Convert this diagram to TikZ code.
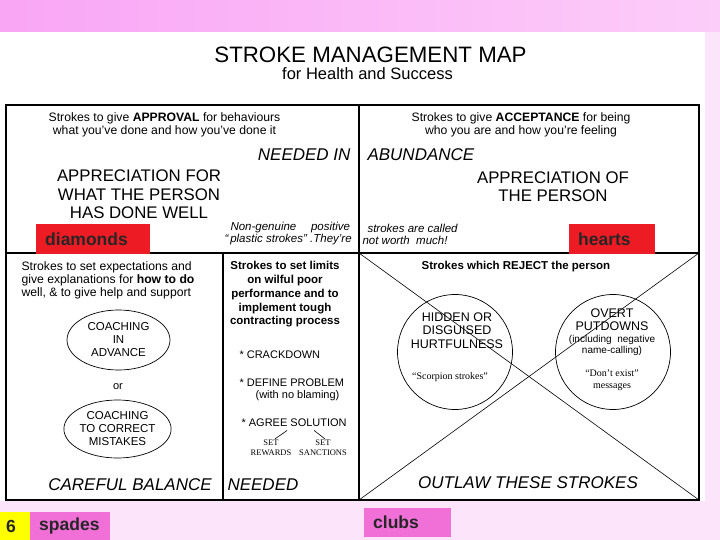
\documentclass[tikz,border=0pt]{standalone}
\usepackage{fontspec}
\setmainfont{Liberation Sans}
\newfontfamily\timesface[Ligatures=TeX]{Liberation Serif}
\usepackage{tikz}
\usetikzlibrary{shapes.geometric}

\definecolor{bandpink}{HTML}{F9A6F5}
\definecolor{bandlight}{HTML}{FCCDF9}
\definecolor{pagepink}{HTML}{FCE4FB}
\definecolor{tagred}{HTML}{ED1C24}
\definecolor{tagpink}{HTML}{F070D8}
\definecolor{tagyellow}{HTML}{FFFF00}

\tikzset{
  labeltag/.style={fill=#1, anchor=west, inner xsep=9pt, inner ysep=0pt,
    minimum height=29pt, align=left, text=black!85,
    font=\fontsize{17.5}{18}\selectfont\bfseries},
  tableline/.style={line width=1.3pt},
  crossline/.style={line width=0.6pt},
  smalltext/.style={align=center, font=\fontsize{12.2}{13}\selectfont},
  boldtext/.style={align=center, font=\fontsize{11.5}{13.75}\selectfont\bfseries},
  bigtext/.style={align=center, font=\fontsize{16.8}{18.5}\selectfont},
  bigital/.style={font=\fontsize{17}{18}\selectfont\itshape},
  plastic/.style={anchor=west, align=left, font=\fontsize{11.5}{12}\selectfont\itshape},
  itemtext/.style={font=\fontsize{11}{13}\selectfont},
  setlabel/.style={align=center, inner sep=1pt, font=\fontsize{8.5}{10}\selectfont\timesface},
  coach/.style={ellipse, draw, line width=0.7pt, inner sep=0pt, minimum width=103pt,
    align=center, font=\fontsize{11.5}{13}\selectfont},
  ring/.style={circle, draw, line width=0.7pt, minimum size=115pt},
  circtext/.style={align=center, font=\fontsize{12.5}{13.5}\selectfont},
  notetext/.style={align=center, font=\fontsize{10}{11}\selectfont},
  seriftext/.style={align=center, font=\fontsize{10}{12}\selectfont\timesface}
}

\begin{document}
\begin{tikzpicture}[x=1pt, y=-1pt]
    \useasboundingbox (0,0) rectangle (720,540);
    % slide background and scanned page
    \fill[pagepink] (0,0) rectangle (720,540);
    \shade[left color=bandpink, right color=bandlight] (0,0) rectangle (720,32);
    \fill[white] (0,32) rectangle (705,501);

    \node[font=\fontsize{22.3}{24}\selectfont] (title) at (370.5,55) {STROKE MANAGEMENT MAP};
    \node[font=\fontsize{16.5}{18}\selectfont] (subtitle) at (367.5,74) {for Health and Success};

    % table frame
    \draw[tableline] (6,105) rectangle (699,500);
    \draw[tableline] (6,253) -- (699,253);
    \draw[tableline] (359,105) -- (359,500);
    \draw[tableline] (223,253) -- (223,500);

    % top half
    \node[smalltext] (approval) at (164.5,124.5) {Strokes to give \textbf{APPROVAL} for behaviours\\what you've done and how you've done it};
    \node[smalltext] (acceptance) at (521,124.5) {Strokes to give \textbf{ACCEPTANCE} for being\\who you are and how you're feeling};
    \node[bigital, anchor=east] (neededin) at (354,155) {NEEDED IN};
    \node[bigital, anchor=west] (abundance) at (364,155) {ABUNDANCE};
    \node[bigtext] (forwhat) at (139,194.5) {APPRECIATION FOR\\WHAT THE PERSON\\HAS DONE WELL};
    \node[bigtext] (ofperson) at (553,186.5) {APPRECIATION OF\\THE PERSON};
    \node[plastic] (nongenuine) at (221,234) {\hspace*{6pt}Non-genuine\quad\ positive\\“\,plastic strokes” .They're};
    \node[plastic] (notworth) at (359,234) {\hspace*{5pt}strokes are called\\not worth\ \ much!};

    % bottom left
    \node[smalltext, anchor=west, align=left] (expect) at (18,280.5) {Strokes to set expectations and\\give explanations for \textbf{how to do}\\well, \& to give help and support};
    \node[coach, minimum height=60pt] (advance) at (118.5,340) {COACHING\\IN\\ADVANCE};
    \node[itemtext] (or) at (118,387) {or};
    \node[coach, minimum height=58pt] (correct) at (117.5,429) {COACHING\\TO CORRECT\\MISTAKES};
    \node[bigital] (careful) at (130,485) {CAREFUL BALANCE};
    \node[bigital, anchor=west] (needed) at (224,485) {NEEDED};

    \node[boldtext] (limits) at (285,294.5) {Strokes to set limits\\on wilful poor\\performance and to\\implement tough\\contracting process};
    \node[itemtext, anchor=west] (crackdown) at (236,355) {* CRACKDOWN};
    \node[itemtext, anchor=west] (define) at (236,383) {* DEFINE PROBLEM};
    \node[itemtext] (noblame) at (297.5,396) {(with no blaming)};
    \node[itemtext, anchor=west] (agree) at (238,423) {* AGREE SOLUTION};
    \node[setlabel] (rewards) at (271,448) {SET\\REWARDS};
    \node[setlabel] (sanctions) at (323,448) {SET\\SANCTIONS};
    \draw[line width=0.6pt] ([xshift=-7pt]agree.south) -- ([xshift=4pt]rewards.north);
    \draw[line width=0.6pt] ([xshift=20pt]agree.south) -- ([xshift=2pt]sanctions.north);

    % bottom right, crossed out
    \coordinate (qtl) at (359,253);
    \coordinate (qtr) at (699,253);
    \coordinate (qbl) at (359,500);
    \coordinate (qbr) at (699,500);
    \draw[crossline] (qtl) -- (qbr);
    \draw[crossline] (qbl) -- (qtr);
    \node[boldtext] (reject) at (516,267) {Strokes which REJECT the person};
    \node[ring] (hidden) at (455,352) {};
    \node[circtext] (hiddentext) at (457,330.5) {HIDDEN OR\\DISGUISED\\HURTFULNESS};
    \node[seriftext] (scorpion) at (450,377) {“Scorpion strokes”};
    \node[ring] (overt) at (613,352) {};
    \node[circtext] (overttext) at (612,319.5) {OVERT\\PUTDOWNS};
    \node[notetext] (including) at (612,345.5) {(including\ \ negative\\name-calling)};
    \node[seriftext] (dontexist) at (612,380) {“Don’t exist”\\messages};
    \node[bigital] (outlaw) at (528,483) {OUTLAW THESE STROKES};

    % slide tags
    \node[labeltag=tagred, text width=96pt] (diamonds) at (36,239) {diamonds};
    \node[labeltag=tagred, text width=68pt] (hearts) at (569,239) {hearts};
    \node[labeltag=tagyellow, inner xsep=6pt, text width=18pt] (six) at (0,526) {6};
    \node[labeltag=tagpink, text width=62pt] (spades) at (30,526) {spades};
    \node[labeltag=tagpink, text width=69pt] (clubs) at (364,522.5) {clubs};
\end{tikzpicture}
\end{document}
